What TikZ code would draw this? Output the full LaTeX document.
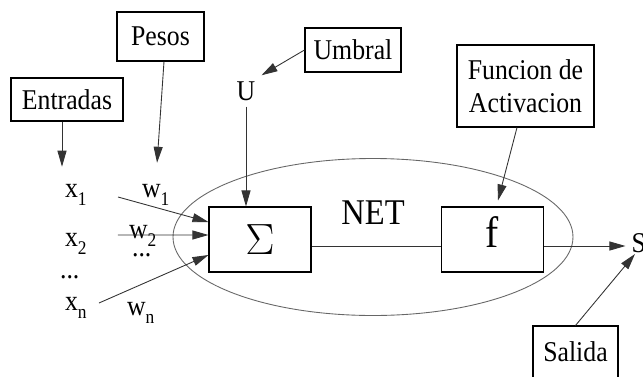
\documentclass[tikz,border=0pt]{standalone}
\usepackage{fontspec}
\setmainfont{Liberation Serif}[FakeStretch=0.9]
\usepackage{tikz}
\usetikzlibrary{arrows.meta,positioning,calc}
\newcommand{\lowsub}[1]{\raisebox{-0.16cm}{\fontsize{11}{11}\selectfont #1}}

\begin{document}
\begin{tikzpicture}[
  lbox/.style={draw=black, line width=0.6pt, align=center, inner sep=2pt},
  blk/.style={draw=black, line width=0.6pt, minimum width=2.04cm, minimum height=1.3cm, font=\fontsize{25}{28}\selectfont},
  var/.style={inner sep=1pt, anchor=base west},
  arr/.style={draw=black!80, line width=0.5pt, -{Triangle[length=0.32cm,width=0.18cm]}},
  font=\fontsize{16.3}{19}\selectfont
]
  \useasboundingbox (0,0) rectangle (12.86,7.52);

  %% Neuron body
  \draw[black!60, line width=0.5pt] (7.46,2.78) ellipse [x radius=4.0, y radius=1.57];
  \node[blk] (sig) at (5.20,2.73) {$\Sigma$};
  \node[blk, text depth=0.3cm] (f) at (9.85,2.73) {f};
  \node[anchor=base, font=\fontsize{20.6}{23}\selectfont] (net) at (7.46,3.04) {NET};
  \node (U) at (4.92,5.70) {U};
  \node[anchor=base west] (S) at (12.51,2.48) {S};

  %% Inputs and weights
  \node[var] (x1) at (1.26,3.58) {x\lowsub{1}};
  \node[var] (x2) at (1.26,2.60) {x\lowsub{2}};
  \node[var] (xd) at (1.16,1.96) {...};
  \node[var] (xn) at (1.26,1.32) {x\lowsub{n}};
  \node[var] (w1) at (2.80,3.58) {w\lowsub{1}};
  \node[var] (w2) at (2.54,2.76) {w\lowsub{2}};
  \node[var] (wd) at (2.60,2.40) {...};
  \node[var] (wn) at (2.50,1.22) {w\lowsub{n}};
  \coordinate (in1) at (2.36,3.58);
  \coordinate (in2) at (2.36,2.82);
  \coordinate (inn) at (1.98,1.46);

  %% Labels
  \node[lbox, minimum width=2.24cm, minimum height=0.86cm] (ent) at (1.34,5.53) {Entradas};
  \node[lbox, minimum width=1.74cm, minimum height=0.98cm] (pes) at (3.21,6.79) {Pesos};
  \node[lbox, minimum width=1.92cm, minimum height=0.88cm] (umb) at (7.06,6.52) {Umbral};
  \node[lbox, minimum width=2.74cm, minimum height=1.64cm] (fun) at (10.51,5.80) {Funcion de\\Activacion};
  \node[lbox, minimum width=1.70cm, minimum height=1.04cm] (sal) at (11.51,0.48) {Salida};

  %% Connectors
  \draw[arr] (in1) -- ([yshift=0.35cm]sig.west);
  \draw[arr] (in2) -- ([yshift=0.09cm]sig.west);
  \draw[arr] (inn) -- ([yshift=-0.31cm]sig.west);
  \draw[arr] (U.south) -- (U.south |- sig.north);
  \draw[black!80, line width=0.5pt] ([yshift=-0.13cm]sig.east) -- ([yshift=-0.13cm]f.west);
  \draw[arr] ([yshift=-0.13cm]f.east) -- ([yshift=-0.13cm]f.east -| S.west);

  \draw[arr, shorten >=0.3cm] ([xshift=-0.1cm]ent.south) -- ([xshift=-0.1cm]ent.south |- x1.north);
  \draw[arr, shorten >=0.38cm] ([xshift=0.07cm]pes.south) -- (w1.north);
  \draw[arr] (umb.west) -- (U.north east);
  \draw[arr] ([xshift=-0.17cm]fun.south) -- ([xshift=0.11cm,yshift=0.12cm]f.north);
  \draw[arr] (sal.north) -- ([xshift=0.19cm,yshift=0.09cm]S.south west);
\end{tikzpicture}
\end{document}
